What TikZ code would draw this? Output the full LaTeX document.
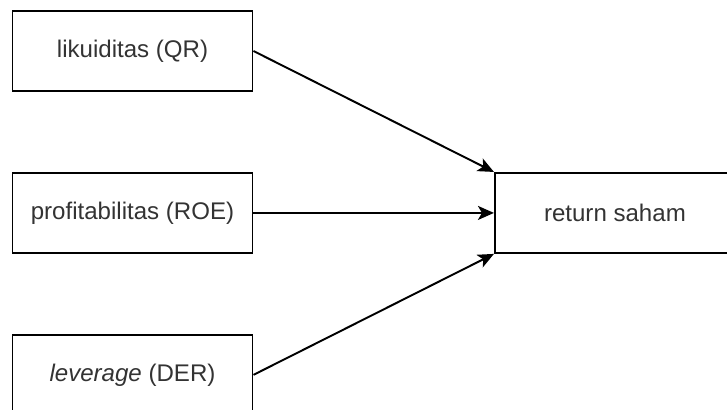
\documentclass[tikz,border=0pt]{standalone}
\usepackage{fontspec}
\setmainfont{Liberation Sans}
\usepackage{tikz}
\usetikzlibrary{arrows.meta, positioning}
\definecolor{labelgray}{HTML}{333333}
\tikzstyle{var} = [rectangle, minimum width=4.8cm, minimum height=1.6cm, text centered, draw=black, line width=1.1pt, text=labelgray, font=\fontsize{13.7}{16}\selectfont]
\tikzstyle{arrow} = [line width=1.1pt, -{Stealth[length=0.32cm, width=0.28cm, inset=0.08cm]}]

\begin{document}
\begin{tikzpicture}[node distance=1.6cm]
        \useasboundingbox (0,0) rectangle (14.54,-8.2);
        \clip (0,0) rectangle (14.54,-8.2);
        \node (likuiditas) [var] at (2.65,-1.02) {likuiditas (QR)};
        \node (profit) [var, below=of likuiditas] {profitabilitas (ROE)};
        \node (leverage) [var, below=of profit] {\textit{leverage} (DER)};
        \node (return) [var, right=4.81cm of profit] {return saham};

        \draw[arrow] (likuiditas.east) -- (return.north west);
        \draw[arrow] (profit.east) -- (return.west);
        \draw[arrow] (leverage.east) -- (return.south west);
    \end{tikzpicture}
\end{document}
